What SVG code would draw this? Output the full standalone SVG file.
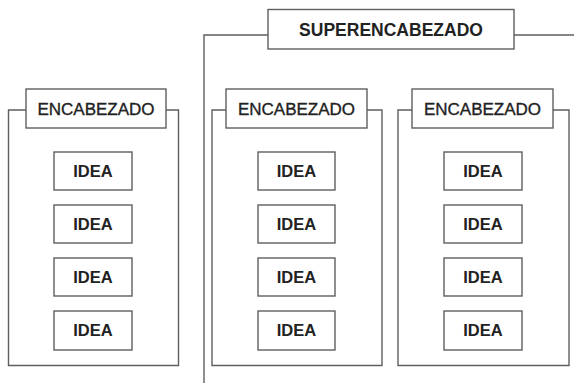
<svg xmlns="http://www.w3.org/2000/svg" width="574" height="383" viewBox="0 0 574 383">
<style>
.ln{fill:none;stroke:#5f5f5f;stroke-width:1.4}
.bx{fill:#fff;stroke:#5f5f5f;stroke-width:1.4}
.hd{font-family:"Liberation Sans",Arial,sans-serif;font-size:17px;fill:#222;stroke:#222;stroke-width:0.35;text-anchor:middle}
.id{font-family:"Liberation Sans",Arial,sans-serif;font-size:16.5px;font-weight:bold;fill:#222;text-anchor:middle}
.sp{font-family:"Liberation Sans",Arial,sans-serif;font-size:17.5px;font-weight:bold;fill:#222;text-anchor:middle}
</style>
<rect width="574" height="383" fill="#fff"/>
<g id="connectors">
<path class="ln" d="M204,383 V35 H268 M514,35 H574"/>
<path class="ln" d="M26,110 H8.5 V365.5 H178.5 V110 H166"/>
<path class="ln" d="M226,110 H212 V365.5 H382 V110 H367"/>
<path class="ln" d="M412,110 H398 V365.5 H569 V110 H553"/>
</g>
<g id="super">
<rect class="bx" x="268" y="9.5" width="246" height="39.5"/>
<text class="sp" x="391" y="35.5">SUPERENCABEZADO</text>
</g>
<g id="head1">
<rect class="bx" x="26" y="89" width="140" height="39"/>
<text class="hd" x="96" y="115">ENCABEZADO</text>
</g>
<g id="head2">
<rect class="bx" x="226" y="89" width="141" height="39"/>
<text class="hd" x="296.5" y="115">ENCABEZADO</text>
</g>
<g id="head3">
<rect class="bx" x="412" y="89" width="141" height="39"/>
<text class="hd" x="482.5" y="115">ENCABEZADO</text>
</g>
<g id="idea1a"><rect class="bx" x="54" y="152" width="78" height="38"/><text class="id" x="93" y="177">IDEA</text></g>
<g id="idea1b"><rect class="bx" x="54" y="205" width="78" height="38"/><text class="id" x="93" y="230">IDEA</text></g>
<g id="idea1c"><rect class="bx" x="54" y="258" width="78" height="38"/><text class="id" x="93" y="283">IDEA</text></g>
<g id="idea1d"><rect class="bx" x="54" y="311" width="78" height="39"/><text class="id" x="93" y="336">IDEA</text></g>
<g id="idea2a"><rect class="bx" x="258" y="152" width="77" height="38"/><text class="id" x="296.5" y="177">IDEA</text></g>
<g id="idea2b"><rect class="bx" x="258" y="205" width="77" height="38"/><text class="id" x="296.5" y="230">IDEA</text></g>
<g id="idea2c"><rect class="bx" x="258" y="258" width="77" height="38"/><text class="id" x="296.5" y="283">IDEA</text></g>
<g id="idea2d"><rect class="bx" x="258" y="311" width="77" height="39"/><text class="id" x="296.5" y="336">IDEA</text></g>
<g id="idea3a"><rect class="bx" x="444" y="152" width="78" height="38"/><text class="id" x="483" y="177">IDEA</text></g>
<g id="idea3b"><rect class="bx" x="444" y="205" width="78" height="38"/><text class="id" x="483" y="230">IDEA</text></g>
<g id="idea3c"><rect class="bx" x="444" y="258" width="78" height="38"/><text class="id" x="483" y="283">IDEA</text></g>
<g id="idea3d"><rect class="bx" x="444" y="311" width="78" height="39"/><text class="id" x="483" y="336">IDEA</text></g>
</svg>
